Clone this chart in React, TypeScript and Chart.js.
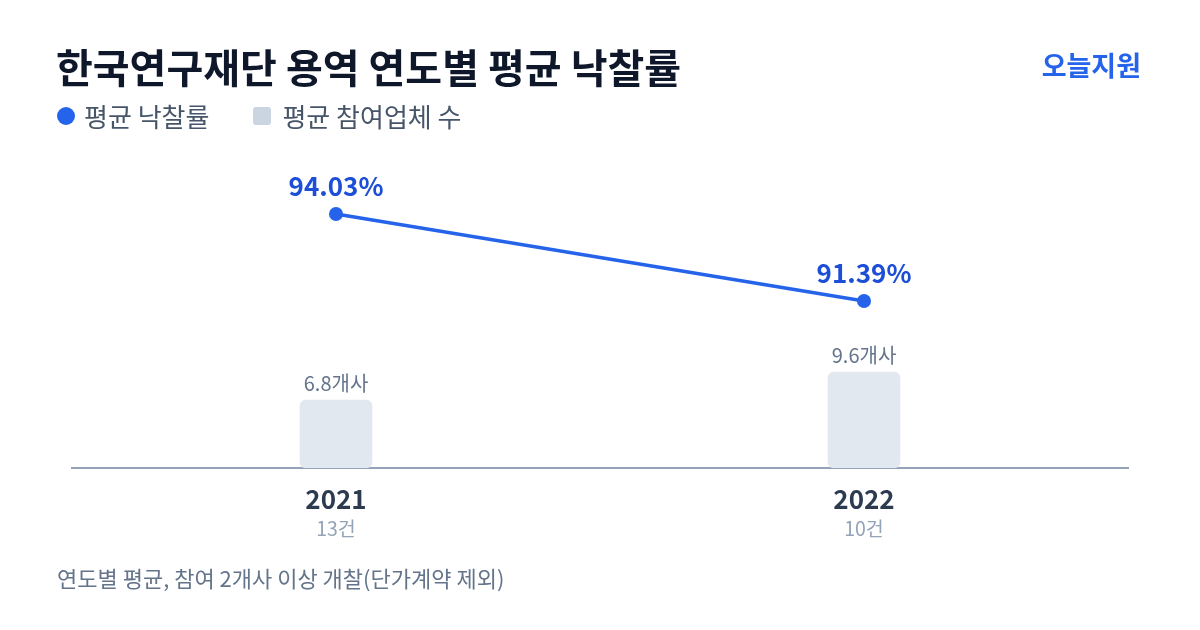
import React, { useEffect, useRef } from 'react';
import { Chart, registerables } from 'chart.js';

Chart.register(...registerables);

const years = ['2021', '2022'];
const bidCounts = [13, 10];
const avgRate = [94.03, 91.39];
const avgBidders = [6.8, 9.6];

const FONT = '"Noto Sans CJK KR", "Noto Sans", sans-serif';

const labelPlugin = {
  id: 'labels',
  afterDatasetsDraw(chart: any) {
    const ctx = chart.ctx;
    ctx.save();
    ctx.textAlign = 'center';
    ctx.textBaseline = 'middle';

    // bar value labels
    const barMeta = chart.getDatasetMeta(1);
    ctx.font = `20px ${FONT}`;
    ctx.fillStyle = '#64748b';
    barMeta.data.forEach((bar: any, i: number) => {
      ctx.fillText(`${avgBidders[i]}개사`, bar.x, bar.y - 17);
    });

    // line value labels
    const lineMeta = chart.getDatasetMeta(0);
    ctx.font = `bold 26px ${FONT}`;
    ctx.fillStyle = '#1d4ed8';
    lineMeta.data.forEach((pt: any, i: number) => {
      ctx.fillText(`${avgRate[i].toFixed(2)}%`, pt.x, pt.y - 28);
    });

    // x axis labels: year + count
    const xScale = chart.scales.x;
    const bottom = chart.chartArea.bottom;
    years.forEach((y, i) => {
      const x = xScale.getPixelForValue(i);
      ctx.font = `bold 26px ${FONT}`;
      ctx.fillStyle = '#2d3b50';
      ctx.fillText(y, x, bottom + 31);
      ctx.font = `19.5px ${FONT}`;
      ctx.fillStyle = '#94a3b8';
      ctx.fillText(`${bidCounts[i]}건`, x, bottom + 61);
    });
    ctx.restore();
  },
};

const RateChart: React.FC = () => {
  const canvasRef = useRef<HTMLCanvasElement | null>(null);

  useEffect(() => {
    if (!canvasRef.current) return;
    const ctx = canvasRef.current.getContext('2d');
    if (!ctx) return;

    const chart = new Chart(ctx, {
      type: 'bar',
      data: {
        labels: years,
        datasets: [
          {
            type: 'line',
            label: '평균 낙찰률',
            data: avgRate,
            yAxisID: 'y1',
            borderColor: '#2563eb',
            backgroundColor: '#2563eb',
            borderWidth: 3.5,
            pointRadius: 7,
            pointBackgroundColor: '#2563eb',
            pointBorderWidth: 0,
            tension: 0,
            order: 0,
          } as any,
          {
            type: 'bar',
            label: '평균 참여업체 수',
            data: avgBidders,
            yAxisID: 'y',
            backgroundColor: '#e2e8f0',
            borderRadius: 6,
            borderSkipped: false,
            barThickness: 72,
            order: 1,
          },
        ],
      },
      options: {
        responsive: false,
        animation: false,
        layout: { padding: { left: 72, right: 72, top: 150, bottom: 162 } },
        plugins: {
          legend: { display: false },
          tooltip: { enabled: false },
        },
        scales: {
          x: {
            offset: true,
            z: 1,
            grid: { display: false, drawTicks: false },
            border: { display: true, color: '#94a3b8', width: 2 },
            ticks: { display: false },
          },
          y: { display: false, min: 0, max: 31.8 },
          y1: { display: false, min: 86.32, max: 95.97 },
        },
      },
      plugins: [labelPlugin],
    });

    return () => {
      chart.destroy();
    };
  }, []);

  return <canvas ref={canvasRef} width={1200} height={630} style={{ position: 'absolute', left: 0, top: 0 }} />;
};

const App: React.FC = () => {
  return (
    <div
      style={{
        position: 'absolute',
        left: 0,
        top: 0,
        width: 1200,
        height: 630,
        background: '#ffffff',
        fontFamily: FONT,
        overflow: 'hidden',
      }}
    >
      <RateChart />
      <div
        style={{
          position: 'absolute',
          left: 56,
          top: 44,
          fontSize: 40,
          lineHeight: '44px',
          fontWeight: 700,
          color: '#0f172a',
          whiteSpace: 'nowrap',
        }}
      >
        한국연구재단 용역 연도별 평균 낙찰률
      </div>
      <div
        style={{
          position: 'absolute',
          right: 59,
          top: 49,
          fontSize: 27,
          lineHeight: '32px',
          fontWeight: 700,
          color: '#2563eb',
        }}
      >
        오늘지원
      </div>
      <div
        style={{
          position: 'absolute',
          left: 57,
          top: 99,
          height: 34,
          display: 'flex',
          alignItems: 'center',
          fontSize: 26,
          lineHeight: '34px',
          color: '#475569',
          whiteSpace: 'nowrap',
        }}
      >
        <span style={{ width: 18, height: 18, borderRadius: 9, background: '#2563eb', marginRight: 9 }} />
        <span>평균 낙찰률</span>
        <span style={{ width: 18, height: 18, borderRadius: 3, background: '#cbd5e1', marginLeft: 44, marginRight: 11 }} />
        <span>평균 참여업체 수</span>
      </div>
      <div
        style={{
          position: 'absolute',
          left: 57,
          top: 562,
          fontSize: 22,
          lineHeight: '30px',
          color: '#64748b',
          whiteSpace: 'nowrap',
        }}
      >
        연도별 평균, 참여 2개사 이상 개찰(단가계약 제외)
      </div>
    </div>
  );
};

export default App;
